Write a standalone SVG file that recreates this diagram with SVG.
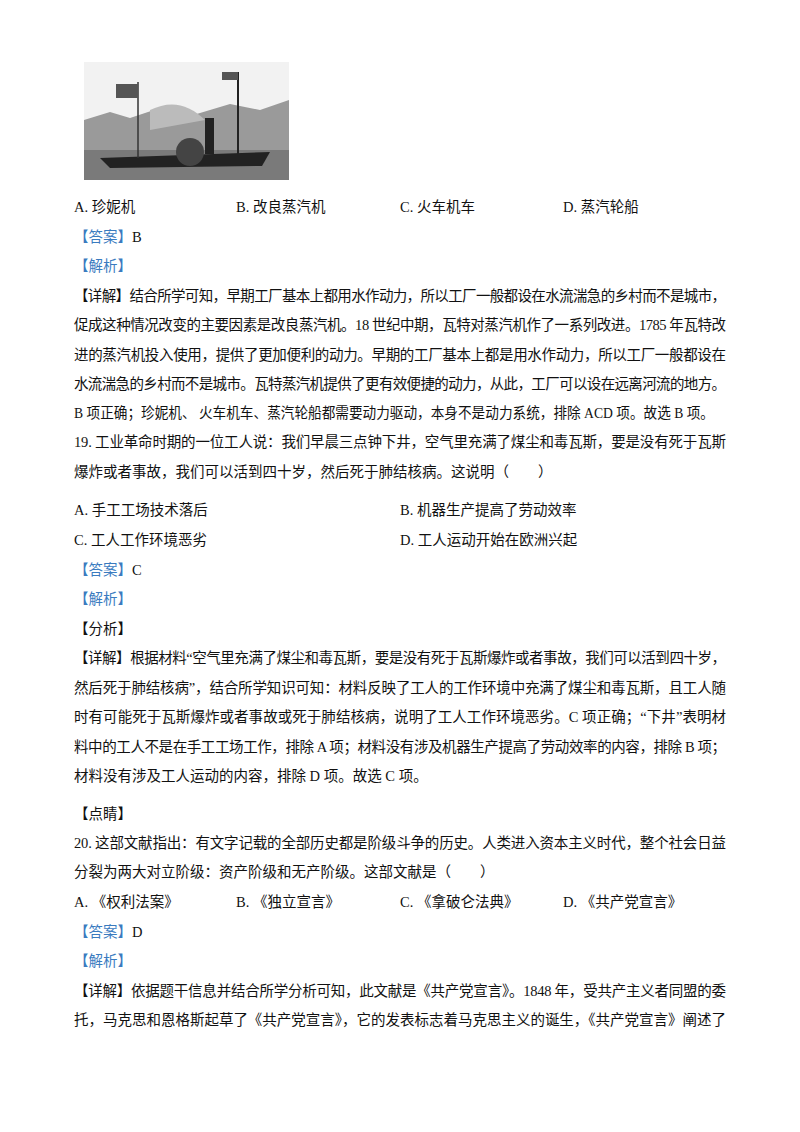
<svg xmlns="http://www.w3.org/2000/svg" width="800" height="1132" viewBox="0 0 800 1132">
<style>
text{font-family:"Liberation Serif","Noto Sans CJK SC",serif;font-size:14.5px;fill:#111}
.b{fill:#3a7bbf}
</style>
<rect width="800" height="1132" fill="#fff"/>
<g id="picture">
<rect x="84" y="62" width="205" height="118" fill="#e8e8e8"/>
<rect x="84" y="62" width="205" height="60" fill="#f2f2f2"/>
<path d="M84 120 L110 112 L130 118 L160 108 L190 116 L230 104 L260 110 L289 100 L289 150 L84 150Z" fill="#9a9a9a"/>
<rect x="84" y="150" width="205" height="30" fill="#7a7a7a"/>
<path d="M100 158 L270 152 L262 166 L110 168Z" fill="#222"/>
<rect x="205" y="118" width="9" height="36" fill="#222"/>
<line x1="238" y1="72" x2="238" y2="156" stroke="#222" stroke-width="2"/>
<line x1="138" y1="82" x2="138" y2="158" stroke="#333" stroke-width="1.5"/>
<rect x="116" y="84" width="22" height="14" fill="#555"/>
<rect x="222" y="72" width="16" height="8" fill="#555"/>
<circle cx="190" cy="152" r="14" fill="#444"/>
<path d="M150 110 Q180 95 205 120 L150 130Z" fill="#bbb"/>
</g>
<g id="text">
<text x="74" y="212">A. 珍妮机</text><text x="236" y="212">B. 改良蒸汽机</text><text x="400" y="212">C. 火车机车</text><text x="563" y="212">D. 蒸汽轮船</text>
<text x="74" y="242"><tspan class="b">【答案】</tspan>B</text>
<text x="74" y="271" class="b">【解析】</text>
<text x="74" y="301" textLength="652" lengthAdjust="spacing">【详解】结合所学可知，早期工厂基本上都用水作动力，所以工厂一般都设在水流湍急的乡村而不是城市，</text>
<text x="74" y="330" textLength="652" lengthAdjust="spacing">促成这种情况改变的主要因素是改良蒸汽机。18 世纪中期，瓦特对蒸汽机作了一系列改进。1785 年瓦特改</text>
<text x="74" y="360" textLength="652" lengthAdjust="spacing">进的蒸汽机投入使用，提供了更加便利的动力。早期的工厂基本上都是用水作动力，所以工厂一般都设在</text>
<text x="74" y="389" textLength="652" lengthAdjust="spacing">水流湍急的乡村而不是城市。瓦特蒸汽机提供了更有效便捷的动力，从此，工厂可以设在远离河流的地方。</text>
<text x="74" y="418" textLength="640" lengthAdjust="spacingAndGlyphs">B 项正确；珍妮机、 火车机车、蒸汽轮船都需要动力驱动，本身不是动力系统，排除 ACD 项。故选 B 项。</text>
<text x="74" y="447" textLength="652" lengthAdjust="spacing">19. 工业革命时期的一位工人说：我们早晨三点钟下井，空气里充满了煤尘和毒瓦斯，要是没有死于瓦斯</text>
<text x="74" y="477">爆炸或者事故，我们可以活到四十岁，然后死于肺结核病。这说明（　　）</text>
<text x="74" y="515">A. 手工工场技术落后</text><text x="400" y="515">B. 机器生产提高了劳动效率</text>
<text x="74" y="545">C. 工人工作环境恶劣</text><text x="400" y="545">D. 工人运动开始在欧洲兴起</text>
<text x="74" y="575"><tspan class="b">【答案】</tspan>C</text>
<text x="74" y="604" class="b">【解析】</text>
<text x="74" y="634">【分析】</text>
<text x="74" y="663" textLength="652" lengthAdjust="spacing">【详解】根据材料“空气里充满了煤尘和毒瓦斯，要是没有死于瓦斯爆炸或者事故，我们可以活到四十岁，</text>
<text x="74" y="693" textLength="652" lengthAdjust="spacing">然后死于肺结核病”，结合所学知识可知：材料反映了工人的工作环境中充满了煤尘和毒瓦斯，且工人随</text>
<text x="74" y="722" textLength="652" lengthAdjust="spacing">时有可能死于瓦斯爆炸或者事故或死于肺结核病，说明了工人工作环境恶劣。C 项正确；“下井”表明材</text>
<text x="74" y="752" textLength="652" lengthAdjust="spacing">料中的工人不是在手工工场工作，排除 A 项；材料没有涉及机器生产提高了劳动效率的内容，排除 B 项；</text>
<text x="74" y="781">材料没有涉及工人运动的内容，排除 D 项。故选 C 项。</text>
<text x="74" y="819">【点睛】</text>
<text x="74" y="848" textLength="652" lengthAdjust="spacing">20. 这部文献指出：有文字记载的全部历史都是阶级斗争的历史。人类进入资本主义时代，整个社会日益</text>
<text x="74" y="877">分裂为两大对立阶级：资产阶级和无产阶级。这部文献是（　　）</text>
<text x="74" y="907">A. 《权利法案》</text><text x="236" y="907">B. 《独立宣言》</text><text x="400" y="907">C. 《拿破仑法典》</text><text x="563" y="907">D. 《共产党宣言》</text>
<text x="74" y="937"><tspan class="b">【答案】</tspan>D</text>
<text x="74" y="966" class="b">【解析】</text>
<text x="74" y="996" textLength="652" lengthAdjust="spacing">【详解】依据题干信息并结合所学分析可知，此文献是《共产党宣言》。1848 年，受共产主义者同盟的委</text>
<text x="74" y="1025" textLength="652" lengthAdjust="spacing">托，马克思和恩格斯起草了《共产党宣言》，它的发表标志着马克思主义的诞生，《共产党宣言》阐述了</text>
</g>
</svg>
